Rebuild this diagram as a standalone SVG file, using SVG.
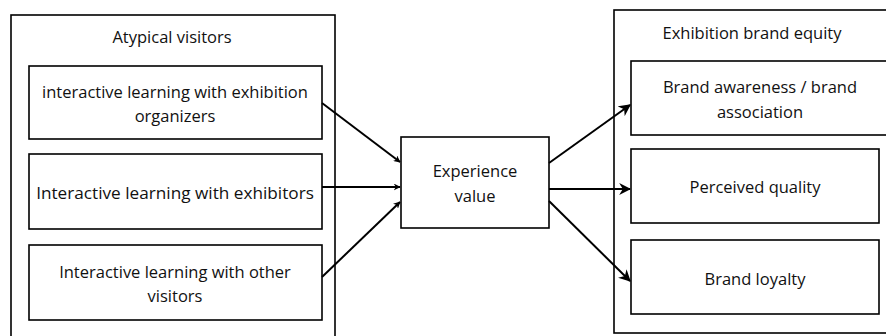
<svg xmlns="http://www.w3.org/2000/svg" width="886" height="336" viewBox="0 0 886 336">
<defs>
<style>
.box{fill:#fff;stroke:#000;stroke-width:1.6}
.t{font-family:"Open Sans","Noto Sans",sans-serif;font-size:16.5px;fill:#111;text-anchor:middle}
.c{stroke:#000;stroke-width:2;fill:none}
</style>
<marker id="ah" viewBox="0 0 10 10" refX="9" refY="5" markerWidth="7" markerHeight="7" orient="auto" markerUnits="userSpaceOnUse">
<path d="M0,0 L10,5 L0,10 L3,5 Z" fill="#000"/>
</marker>
<marker id="ah2" viewBox="0 0 10 10" refX="9" refY="5" markerWidth="12" markerHeight="12" orient="auto" markerUnits="userSpaceOnUse">
<path d="M0,0 L10,5 L0,10 L3,5 Z" fill="#000"/>
</marker>
</defs>
<rect width="886" height="336" fill="#fff"/>
<g id="atypical-visitors">
<rect class="box" x="11" y="15" width="324" height="330"/>
<text class="t" x="172" y="43">Atypical visitors</text>
</g>
<g id="organizers">
<rect class="box" x="29" y="66" width="293" height="73"/>
<text class="t" x="175" y="98">interactive learning with exhibition</text>
<text class="t" x="175" y="122">organizers</text>
</g>
<g id="exhibitors">
<rect class="box" x="29" y="154" width="293" height="75"/>
<text class="t" x="175" y="199" style="font-size:17.2px">Interactive learning with exhibitors</text>
</g>
<g id="other-visitors">
<rect class="box" x="29" y="245" width="293" height="75"/>
<text class="t" x="175" y="278">Interactive learning with other</text>
<text class="t" x="175" y="302">visitors</text>
</g>
<g id="experience-value">
<rect class="box" x="401" y="137" width="148" height="91"/>
<text class="t" x="475" y="177">Experience</text>
<text class="t" x="475" y="202">value</text>
</g>
<g id="brand-equity">
<rect class="box" x="614" y="10" width="280" height="323"/>
<text class="t" x="752" y="39">Exhibition brand equity</text>
</g>
<g id="awareness">
<rect class="box" x="631" y="61" width="262" height="74"/>
<text class="t" x="760" y="93">Brand awareness / brand</text>
<text class="t" x="760" y="118">association</text>
</g>
<g id="quality">
<rect class="box" x="631" y="149" width="248" height="74"/>
<text class="t" x="755" y="193">Perceived quality</text>
</g>
<g id="loyalty">
<rect class="box" x="631" y="240" width="248" height="74"/>
<text class="t" x="755" y="285">Brand loyalty</text>
</g>
<g id="connectors">
<line class="c" x1="322" y1="103" x2="400" y2="162" marker-end="url(#ah)"/>
<line class="c" x1="322" y1="187" x2="400" y2="187" marker-end="url(#ah)"/>
<line class="c" x1="322" y1="277" x2="400" y2="202" marker-end="url(#ah)"/>
<line class="c" x1="549" y1="163" x2="630" y2="105" marker-end="url(#ah2)"/>
<line class="c" x1="549" y1="189" x2="630" y2="189" marker-end="url(#ah2)"/>
<line class="c" x1="549" y1="201" x2="630" y2="281" marker-end="url(#ah2)"/>
</g>
</svg>
